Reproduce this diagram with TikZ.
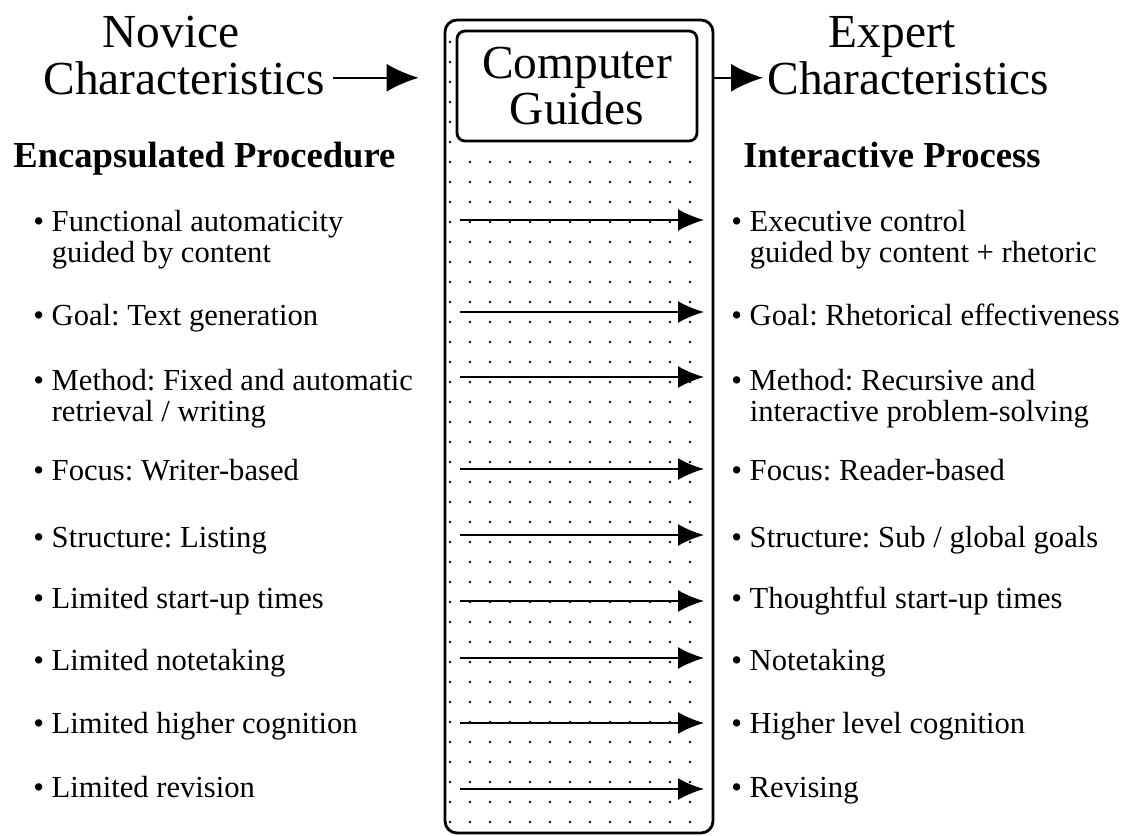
\documentclass[tikz,border=0pt]{standalone}
\usepackage{fontspec}
\setmainfont{Liberation Serif}
\frenchspacing
\usetikzlibrary{arrows.meta, positioning}
\tikzset{
    head/.style={font=\fontsize{23.7}{23.7}\selectfont, inner sep=0pt},
    sub/.style={font=\fontsize{18.3}{20}\selectfont\bfseries, inner sep=0pt, anchor=base west},
    item/.style={font=\fontsize{15.3}{15.5}\selectfont, inner sep=0pt, anchor=base west, align=left},
    guidebox/.style={draw, line width=1.4pt, rounded corners=6pt},
    titlebox/.style={draw, fill=white, line width=1.4pt, rounded corners=4pt, align=center,
        font=\fontsize{23.7}{23}\selectfont, minimum width=120pt, minimum height=55pt},
    bigarrow/.style={line width=1pt, -{Latex[length=16pt,width=14pt]}},
    rowarrow/.style={line width=1pt, -{Latex[length=13pt,width=11pt]}}
}
\newcommand{\ind}{\hphantom{\textbullet~}}
\begin{document}
\begin{tikzpicture}[x=0.5pt, y=-0.5pt]
    \useasboundingbox (0,0) rectangle (1123,835);

    % -- Middle column --
    \node (guide) [guidebox, minimum width=134pt, minimum height=406.5pt] at (579,426.5) {};
    \foreach \y in {42,62,...,142}
        \fill (450,\y) circle (0.65pt);
    \foreach \y in {162,182,...,822}
        \foreach \x in {450,470,...,690}
            \fill (\x,\y) circle (0.65pt);
    \node (comp) [titlebox] at (577,86) {Computer\\Guides};

    % -- Headings --
    \node (nov) [head, anchor=base] at (171,47) {Novice};
    \node (novchar) [head, anchor=base west] at (43,94) {Characteristics};
    \node (exp) [head, anchor=base] at (892,47) {Expert};
    \node (expchar) [head, anchor=base west] at (767,94) {Characteristics};

    \node (encap) [sub] at (13,167) {Encapsulated Procedure};
    \node (inter) [sub] at (743,167) {Interactive Process};

    % -- Novice list (two-line items sit on their last line) --
    \node (n1) [item] at (33,262) {\textbullet~Functional automaticity\\\ind guided by content};
    \node (n2) [item] at (33,325) {\textbullet~Goal: Text generation};
    \node (n3) [item] at (33,421) {\textbullet~Method: Fixed and automatic\\\ind retrieval / writing};
    \node (n4) [item] at (33,480) {\textbullet~Focus: Writer-based};
    \node (n5) [item] at (33,547) {\textbullet~Structure: Listing};
    \node (n6) [item] at (33,608) {\textbullet~Limited start-up times};
    \node (n7) [item] at (33,670) {\textbullet~Limited notetaking};
    \node (n8) [item] at (33,733) {\textbullet~Limited higher cognition};
    \node (n9) [item] at (33,797) {\textbullet~Limited revision};

    % -- Expert list --
    \node (e1) [item] at (731,262) {\textbullet~Executive control\\\ind guided by content + rhetoric};
    \node (e2) [item] at (731,325) {\textbullet~Goal: Rhetorical effectiveness};
    \node (e3) [item] at (731,421) {\textbullet~Method: Recursive and\\\ind interactive problem-solving};
    \node (e4) [item] at (731,480) {\textbullet~Focus: Reader-based};
    \node (e5) [item] at (731,547) {\textbullet~Structure: Sub / global goals};
    \node (e6) [item] at (731,608) {\textbullet~Thoughtful start-up times};
    \node (e7) [item] at (731,670) {\textbullet~Notetaking};
    \node (e8) [item] at (731,733) {\textbullet~Higher level cognition};
    \node (e9) [item] at (731,797) {\textbullet~Revising};

    % Connectors
    \draw [bigarrow, shorten >=12.5pt] ([xshift=4pt]novchar.east) -- (guide.west |- novchar.east);
    \draw [bigarrow] (guide.east |- expchar.west) -- ([xshift=-2pt]expchar.west);
    \foreach \y [count=\i] in {220,312,377,469,535,601,658,723,789} {
        \coordinate (s\i) at (460,\y);
        \coordinate (t\i) at (704,\y);
        \draw [rowarrow] (s\i) -- (t\i);
    }
\end{tikzpicture}
\end{document}
